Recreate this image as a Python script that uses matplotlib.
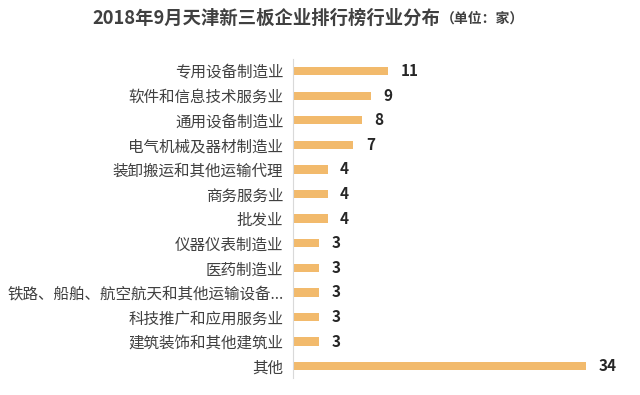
import matplotlib
matplotlib.use("Agg")
import matplotlib.pyplot as plt

plt.rcParams['font.family'] = ['Noto Sans CJK SC', 'DejaVu Sans']

categories = ["专用设备制造业", "软件和信息技术服务业", "通用设备制造业", "电气机械及器材制造业",
              "装卸搬运和其他运输代理", "商务服务业", "批发业", "仪器仪表制造业", "医药制造业",
              "铁路、船舶、航空航天和其他运输设备...", "科技推广和应用服务业", "建筑装饰和其他建筑业", "其他"]
values = [11, 9, 8, 7, 4, 4, 4, 3, 3, 3, 3, 3, 34]
title_main = "2018年9月天津新三板企业排行榜行业分布"
title_unit = "（单位：家）"

fig = plt.figure(figsize=(6.4, 3.95), dpi=100)
ax = fig.add_axes([0.458, 0.042, 0.512, 0.809])

y = list(range(len(categories)))
ax.barh(y, values, height=0.34, color="#F2BA6C", zorder=2)
ax.set_ylim(len(categories) - 0.5, -0.5)
ax.set_xlim(0, 38)
ax.set_yticks(y)
ax.set_yticklabels(categories, fontsize=11.2, color="#404040")
ax.tick_params(axis='y', length=0, pad=7)
ax.set_xticks([])
for s in ["top", "right", "bottom"]:
    ax.spines[s].set_visible(False)
ax.spines["left"].set_color("#D9D9D9")
ax.spines["left"].set_linewidth(0.8)

for yi, v in zip(y, values):
    ax.annotate(str(v), xy=(v, yi), xytext=(9, 0), textcoords="offset points",
                ha="left", va="center", fontsize=11, fontweight="bold", color="#262626")

t1 = fig.text(92 / 640, 1 - 18 / 395, title_main, fontsize=13.2, fontweight="bold",
              color="#404040", ha="left", va="center")
fig.canvas.draw()
bb = t1.get_window_extent()
fig.text(bb.x1 / fig.bbox.width + 0.002, 1 - 19 / 395, title_unit, fontsize=10,
         fontweight="bold", color="#404040", ha="left", va="center")

fig.savefig("out.png", dpi=100)
